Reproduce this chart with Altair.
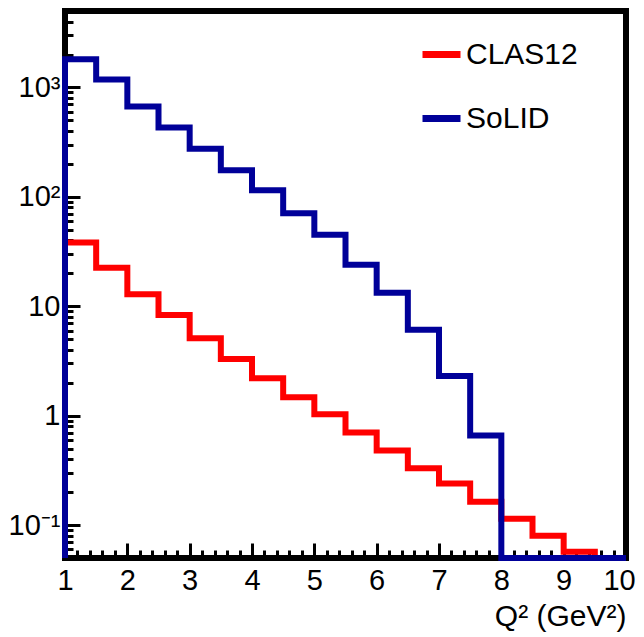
import altair as alt
import pandas as pd

# Bin edges in Q^2 (GeV^2), bins of width 0.5
Q2_EDGES = [1.0, 1.5, 2.0, 2.5, 3.0, 3.5, 4.0, 4.5, 5.0, 5.5,
            6.0, 6.5, 7.0, 7.5, 8.0, 8.5, 9.0, 9.5, 10.0]
# Bin contents (one per bin)
CLAS12 = [38.2, 22.5, 12.9, 8.3, 5.1, 3.3, 2.2, 1.47, 1.03, 0.70,
          0.48, 0.33, 0.24, 0.163, 0.114, 0.080, 0.057, 0.0]
SOLID = [1810, 1180, 670, 430, 275, 175, 115, 71, 45, 24,
         13.3, 6.1, 2.3, 0.66, 0.0, 0.0, 0.0, 0.0]

SERIES = ["CLAS12", "SoLID"]
COLORS = ["#ff0000", "#000099"]

X_MAJOR = [1, 2, 3, 4, 5, 6, 7, 8, 9, 10]
X_MINOR = [1.2, 1.4, 1.6, 1.8, 2.2, 2.4, 2.6, 2.8, 3.2, 3.4, 3.6, 3.8,
           4.2, 4.4, 4.6, 4.8, 5.2, 5.4, 5.6, 5.8, 6.2, 6.4, 6.6, 6.8,
           7.2, 7.4, 7.6, 7.8, 8.2, 8.4, 8.6, 8.8, 9.2, 9.4, 9.6, 9.8]
Y_MAJOR = [0.1, 1, 10, 100, 1000]
Y_LABELS = ["10⁻¹", "1", "10", "10²", "10³"]
Y_MINOR = [0.06, 0.07, 0.08, 0.09,
           0.2, 0.3, 0.4, 0.5, 0.6, 0.7, 0.8, 0.9,
           2, 3, 4, 5, 6, 7, 8, 9,
           20, 30, 40, 50, 60, 70, 80, 90,
           200, 300, 400, 500, 600, 700, 800, 900,
           2000, 3000, 4000]
X_DOMAIN = [1, 10]
Y_DOMAIN = [0.05, 5000]

# Build histogram outlines (empty bins drawn on the bottom of the frame, as ROOT does)
rows = []
ymin = Y_DOMAIN[0]
for name, vals in zip(SERIES, [CLAS12, SOLID]):
    k = 0
    rows.append({"series": name, "q2": Q2_EDGES[0], "v": ymin, "idx": k}); k += 1
    for lo, v in zip(Q2_EDGES[:-1], vals):
        rows.append({"series": name, "q2": lo, "v": max(v, ymin), "idx": k}); k += 1
    rows.append({"series": name, "q2": Q2_EDGES[-1], "v": max(vals[-1], ymin), "idx": k}); k += 1
    rows.append({"series": name, "q2": Q2_EDGES[-1], "v": ymin, "idx": k}); k += 1
df = pd.DataFrame(rows)

label_expr = " : ".join(
    f"datum.value == {v} ? '{l}'" for v, l in zip(Y_MAJOR, Y_LABELS)
) + " : ''"

FONT = "Liberation Sans"

xscale = alt.Scale(domain=X_DOMAIN, nice=False, zero=False)
yscale = alt.Scale(type="log", domain=Y_DOMAIN, nice=False)

main = alt.Chart(df).mark_line(
    interpolate="step-after", strokeWidth=6, strokeJoin="miter", strokeCap="butt"
).encode(
    x=alt.X("q2:Q", scale=xscale, axis=alt.Axis(
        orient="bottom", values=X_MAJOR, offset=-15, tickSize=15, tickWidth=3,
        tickColor="black", domain=False, grid=False, labelFontSize=29,
        labelFont=FONT, labelColor="black", labelPadding=8, labelFlush=False,
        labelOffset={"condition": {"test": f"datum.value == {X_DOMAIN[1]}", "value": -7}, "value": 0},
        labelOverlap=False, title="Q² (GeV²)", titleFont=FONT, titleFontSize=30,
        titleFontWeight="normal", titleColor="black", titleAnchor="end",
        titleAlign="right", titlePadding=6)),
    y=alt.Y("v:Q", scale=yscale, axis=alt.Axis(
        orient="left", values=Y_MAJOR, offset=-15, tickSize=15, tickWidth=3,
        tickColor="black", domain=False, grid=False, labelFontSize=29,
        labelFont=FONT, labelColor="black", labelPadding=5, labelFlush=False,
        labelOverlap=False, labelExpr=label_expr, title=None)),
    color=alt.Color("series:N", scale=alt.Scale(domain=SERIES, range=COLORS),
                    legend=alt.Legend(
                        orient="none", legendX=354, legendY=21, title=None,
                        symbolType="stroke", symbolSize=1444, symbolStrokeWidth=7,
                        labelFontSize=30, labelFont=FONT, labelColor="black",
                        labelOffset=2, rowPadding=26, padding=0)),
    order="idx:Q",
)

minor = alt.Chart(df).mark_point(opacity=0).encode(
    x=alt.X("q2:Q", scale=xscale, axis=alt.Axis(
        orient="bottom", values=X_MINOR, offset=-8, tickSize=8, tickWidth=3,
        tickColor="black", domain=False, grid=False, labels=False, title=None)),
    y=alt.Y("v:Q", scale=yscale, axis=alt.Axis(
        orient="left", values=Y_MINOR, offset=-8, tickSize=8, tickWidth=3,
        tickColor="black", domain=False, grid=False, labels=False, title=None)),
)

chart = alt.layer(minor, main).resolve_axis(
    x="independent", y="independent"
).properties(
    width=561, height=547,
    padding={"left": 57, "top": 3, "right": 10, "bottom": 78},
    autosize=alt.AutoSizeParams(type="none"),
    background="white",
).configure_view(
    stroke="black", strokeWidth=6
)

chart.save("out.html", embed_options={"renderer": "svg", "actions": False})
